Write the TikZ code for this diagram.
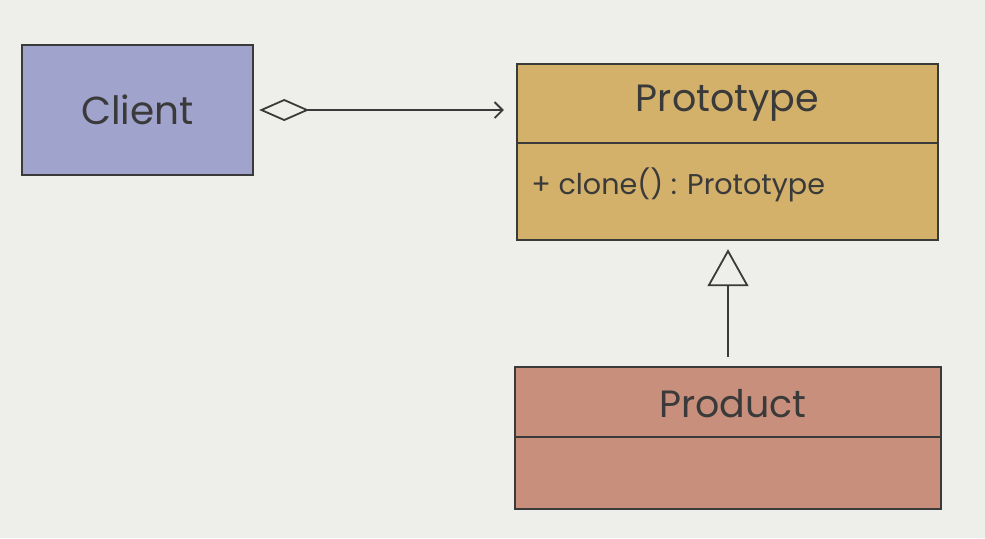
\documentclass[tikz,border=0pt]{standalone}
\usepackage{fontspec}
\setmainfont{Poppins}
\usetikzlibrary{arrows.meta}
\definecolor{paper}{HTML}{EEEEEA}
\definecolor{ink}{HTML}{3A3A3A}
\definecolor{clientblue}{HTML}{A0A3CB}
\definecolor{protogold}{HTML}{D4B16A}
\definecolor{productred}{HTML}{C8907C}
\begin{document}
\begin{tikzpicture}[x=0.5pt,y=-0.5pt,
    classbox/.style={draw=ink,line width=1.2pt,inner sep=0pt},
    title/.style={text=ink,font=\fontsize{19}{22}\selectfont},
    member/.style={text=ink,font=\fontsize{14.3}{17}\selectfont,anchor=west,inner sep=0pt},
    link/.style={draw=ink,line width=0.9pt}]
  \useasboundingbox[fill=paper] (0,0) rectangle (985,538);
  \node[classbox,fill=clientblue,minimum width=115.5pt,minimum height=65pt,
    text=ink,font=\fontsize{19.5}{23}\selectfont] (client) at (137.5,110) {Client};
  \node[classbox,fill=protogold,minimum width=210.5pt,minimum height=88pt] (proto) at (727.5,152) {};
  \node[classbox,fill=productred,minimum width=213pt,minimum height=71pt] (product) at (728,438) {};
  \draw[ink,line width=1.2pt] (proto.west |- 0,143) -- (proto.east |- 0,143);
  \draw[ink,line width=1.2pt] (product.west |- 0,437) -- (product.east |- 0,437);
  \node[title] (protoname) at (727.5,103) {Prototype};
  \node[member] (clone) at (531,185) {+ clone() : Prototype};
  \node[title] (productname) at (733,404) {Product};
  \draw[link,{Diamond[open,length=25pt,width=11pt]}-{Straight Barb[length=4pt,width=8pt]},
    shorten <=2.5pt,shorten >=6pt] (client.east) -- (client.east -| proto.west);
  \draw[link,-{Triangle[open,length=18.5pt,width=20.5pt]},
    shorten <=4.5pt,shorten >=4pt] (product.north) -- (product.north |- proto.south);
\end{tikzpicture}
\end{document}
